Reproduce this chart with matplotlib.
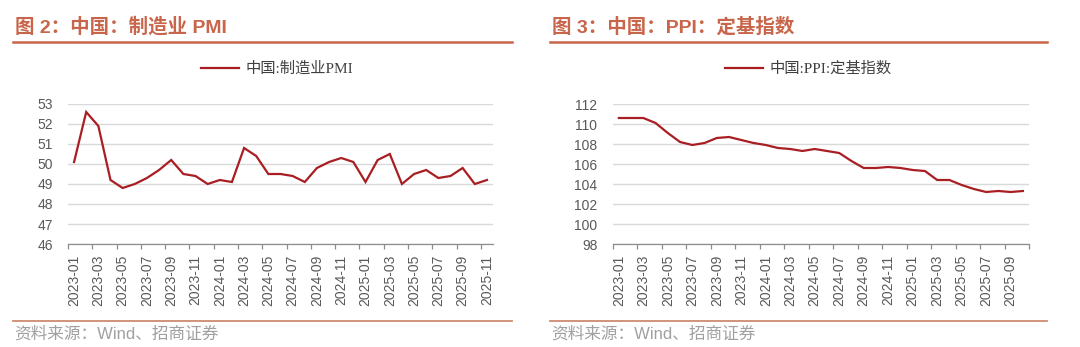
import matplotlib
matplotlib.use("Agg")
import matplotlib.pyplot as plt
import numpy as np
import pandas as pd

# 制造业PMI，2023-01 ~ 2025-11
pmi_months = pd.period_range("2023-01", "2025-11", freq="M").strftime("%Y-%m").tolist()
pmi_values = [50.1, 52.6, 51.9, 49.2, 48.8, 49.0, 49.3, 49.7, 50.2, 49.5, 49.4, 49.0,
              49.2, 49.1, 50.8, 50.4, 49.5, 49.5, 49.4, 49.1, 49.8, 50.1, 50.3, 50.1,
              49.1, 50.2, 50.5, 49.0, 49.5, 49.7, 49.3, 49.4, 49.8, 49.0, 49.2]

# PPI定基指数，2023-01 ~ 2025-10
ppi_months = pd.period_range("2023-01", "2025-10", freq="M").strftime("%Y-%m").tolist()
ppi_values = [110.6, 110.6, 110.6, 110.1, 109.1, 108.2, 107.9, 108.1, 108.6, 108.7, 108.4, 108.1,
              107.9, 107.6, 107.5, 107.3, 107.5, 107.3, 107.1, 106.3, 105.6, 105.6, 105.7, 105.6,
              105.4, 105.3, 104.4, 104.4, 103.9, 103.5, 103.2, 103.3, 103.2, 103.3]

pmi_yticks = [46, 47, 48, 49, 50, 51, 52, 53]
ppi_yticks = [98, 100, 102, 104, 106, 108, 110, 112]

TITLE_C = "#C8654A"
RULE_C = "#D08A72"
LINE_C = "#A81E23"
TICK_C = "#595959"
GRID_C = "#D9D9D9"
SRC_C = "#A0A0A0"

CJK = ["Liberation Sans", "Noto Sans CJK SC"]
CJK_SERIF = ["Liberation Serif", "Noto Sans CJK SC"]
plt.rcParams["font.family"] = CJK

fig = plt.figure(figsize=(10.8, 3.47), dpi=100)
W, H = 1080, 347


def fx(px):
    return px / W


def fy(py):
    return 1 - py / H


def panel(x0, x1, months, values, yticks, title, label, legend_x, rule):
    ax = fig.add_axes([fx(x0), fy(244), fx(x1 - x0), fy(104) - fy(244)])
    n = len(values)
    x = np.arange(n)
    ax.plot(x, values, color=LINE_C, lw=1.6, label=label, solid_joinstyle="miter")

    ax.set_xlim(-0.5, n - 0.5)
    ax.set_ylim(yticks[0], yticks[-1])
    ax.set_yticks(yticks)
    ax.yaxis.grid(True, color=GRID_C, lw=1)
    ax.set_axisbelow(True)

    # labels sit on every other month, tick marks on category boundaries
    ax.set_xticks(x[::2])
    ax.set_xticklabels(months[::2], rotation=90)
    ax.set_xticks(np.arange(-0.5, n, 2), minor=True)
    ax.tick_params(axis="x", which="major", length=0, pad=8, labelsize=10, colors=TICK_C)
    ax.tick_params(axis="x", which="minor", length=3.5, color="#8C8C8C", width=0.9)
    ax.tick_params(axis="y", length=0, pad=11, labelsize=10, colors=TICK_C)

    for s in ("top", "right", "left"):
        ax.spines[s].set_visible(False)
    ax.spines["bottom"].set_color("#8C8C8C")
    ax.spines["bottom"].set_linewidth(0.9)

    fig.legend(handles=ax.get_lines(), loc="center left", bbox_to_anchor=(fx(legend_x), fy(69)),
               frameon=False, handlelength=2.5, handletextpad=0.4, borderaxespad=0,
               prop={"family": CJK_SERIF, "size": 11}, labelcolor="#404040")

    # title block, rules and source line
    fig.text(fx(rule[0] + 2), fy(27), title, color=TITLE_C, fontsize=14, fontweight="bold",
             va="center", ha="left")
    fig.add_artist(plt.Line2D([fx(rule[0]), fx(rule[1])], [fy(42), fy(42)], color=TITLE_C, lw=1.8))
    fig.add_artist(plt.Line2D([fx(rule[0]), fx(rule[1])], [fy(321), fy(321)], color=RULE_C, lw=1.3))
    fig.text(fx(rule[0] + 1), fy(334), "资料来源：Wind、招商证券", color=SRC_C, fontsize=12,
             va="center", ha="left")
    return ax


panel(68, 493, pmi_months, pmi_values, pmi_yticks,
      "图 2：中国：制造业 PMI", "中国:制造业PMI", 195, (13, 512))
panel(612.7, 1029, ppi_months, ppi_values, ppi_yticks,
      "图 3：中国：PPI：定基指数", "中国:PPI:定基指数", 719, (550, 1047))

fig.savefig("out.png", dpi=100)
